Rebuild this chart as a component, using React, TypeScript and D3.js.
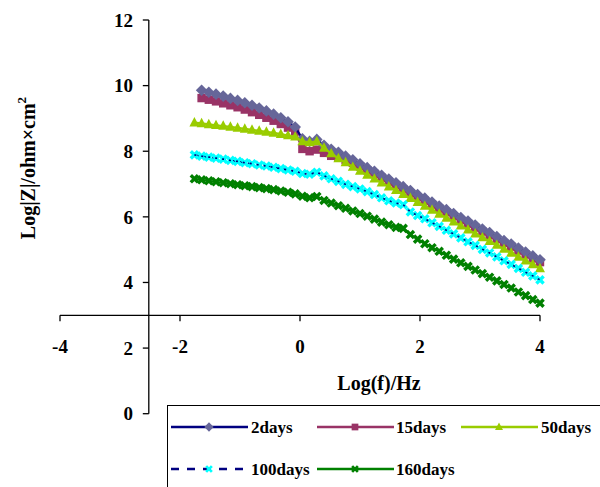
import React from "react";
import * as d3 from "d3";

const logF = [
  -1.76, -1.64, -1.52, -1.4, -1.28, -1.16, -1.04, -0.92, -0.8, -0.68, -0.56, -0.44, -0.32, -0.2, -0.08,
  0.04, 0.16, 0.28, 0.4, 0.52,
  0.64, 0.76, 0.88, 1.0, 1.12, 1.24, 1.36, 1.48, 1.6,
  1.72, 1.84, 1.96, 2.08, 2.2, 2.32, 2.44, 2.56, 2.68, 2.8,
  2.92, 3.04, 3.16, 3.28, 3.4, 3.52, 3.64, 3.76, 3.88, 4.0,
];

const days2: (number | null)[] = [
  null, 9.86, 9.8, 9.74, 9.68, 9.61, 9.55, 9.48, 9.4, 9.32, 9.23, 9.13, 9.02, 8.9, 8.74,
  8.38, 8.3, 8.36, 8.18, 8.06,
  7.97, 7.85, 7.74, 7.62, 7.5, 7.39, 7.27, 7.15, 7.04,
  6.92, 6.8, 6.68, 6.57, 6.45, 6.33, 6.22, 6.1, 5.98, 5.87,
  5.75, 5.63, 5.52, 5.4, 5.28, 5.17, 5.05, 4.93, 4.81, 4.69,
];

const days15: (number | null)[] = [
  null, 9.62, 9.57, 9.52, 9.46, 9.4, 9.34, 9.27, 9.19, 9.11, 9.02, 8.93, 8.83, 8.72, 8.6,
  8.07, 8.0, 8.05, 7.95, 7.86,
  7.8, 7.73, 7.65, 7.54, 7.42, 7.31, 7.19, 7.07, 6.96,
  6.84, 6.72, 6.6, 6.49, 6.37, 6.25, 6.14, 6.02, 5.9, 5.79,
  5.67, 5.55, 5.44, 5.32, 5.2, 5.09, 4.97, 4.85, 4.73, 4.62,
];

const days50: (number | null)[] = [
  8.87, 8.85, 8.82, 8.79, 8.77, 8.74, 8.71, 8.68, 8.65, 8.62, 8.59, 8.56, 8.52, 8.48, 8.44,
  8.3, 8.27, 8.3, 8.1, 7.93,
  7.78, 7.66, 7.52, 7.4, 7.28, 7.16, 7.04, 6.92, 6.81,
  6.69, 6.57, 6.45, 6.33, 6.21, 6.09, 5.97, 5.85, 5.73, 5.61,
  5.49, 5.37, 5.26, 5.14, 5.02, 4.9, 4.78, 4.66, 4.55, 4.43,
];

const days100: (number | null)[] = [
  7.89, 7.85, 7.82, 7.79, 7.76, 7.72, 7.69, 7.65, 7.62, 7.58, 7.55, 7.51, 7.47, 7.43, 7.39,
  7.32, 7.3, 7.36, 7.25, 7.16,
  7.08, 6.99, 6.92, 6.85, 6.77, 6.68, 6.58, 6.49, 6.42,
  6.37, 6.15, 6.04, 5.94, 5.82, 5.71, 5.59, 5.48, 5.36, 5.24,
  5.13, 5.01, 4.9, 4.78, 4.66, 4.55, 4.43, 4.31, 4.2, 4.08,
];

const days160: (number | null)[] = [
  7.16, 7.13, 7.1, 7.07, 7.04, 7.01, 6.98, 6.95, 6.92, 6.89, 6.86, 6.83, 6.79, 6.75, 6.7,
  6.63, 6.58, 6.62, 6.5, 6.42,
  6.34, 6.26, 6.18, 6.1, 6.02, 5.93, 5.84, 5.76, 5.68,
  5.65, 5.46, 5.32, 5.18, 5.06, 4.95, 4.83, 4.71, 4.6, 4.49,
  4.38, 4.27, 4.16, 4.05, 3.94, 3.83, 3.71, 3.6, 3.48, 3.37,
];

const seriesNames = ["2days", "15days", "50days", "100days", "160days"];
const xTicks = [-4, -2, 0, 2, 4];
const yTicks = [0, 2, 4, 6, 8, 10, 12];

const FONT = "'Liberation Serif', 'Times New Roman', serif";

type MarkerKind = "diamond" | "square" | "triangle" | "xcyan" | "xgreen";

function Marker({ kind, x, y, s = 1 }: { kind: MarkerKind; x: number; y: number; s?: number }) {
  if (kind === "diamond") {
    const r = 5.8 * s;
    return <path d={`M${x},${y - r}L${x + r},${y}L${x},${y + r}L${x - r},${y}Z`} fill="#666699" />;
  }
  if (kind === "square") {
    const h = 4.2 * s;
    return <rect x={x - h} y={y - h} width={2 * h} height={2 * h} fill="#993366" />;
  }
  if (kind === "triangle")
    return (
      <path
        d={`M${x},${y - 5.6 * s}L${x + 5 * s},${y + 3.8 * s}L${x - 5 * s},${y + 3.8 * s}Z`}
        fill="#99cc00"
      />
    );
  const col = kind === "xcyan" ? "#00ffff" : "#008000";
  const r = 3.6 * s;
  return (
    <path
      d={`M${x - r},${y - r}L${x + r},${y + r}M${x - r},${y + r}L${x + r},${y - r}`}
      stroke={col}
      strokeWidth={3.4 * s}
      fill="none"
    />
  );
}

export default function App() {
  const x = d3.scaleLinear().domain([-4, 4]).range([60, 540]);
  const y = d3.scaleLinear().domain([0, 12]).range([413.7, 20]);
  const axisX = x(-2.52);
  const axisY = y(3);

  const series = [
    { name: seriesNames[1], vals: days15, line: "#993366", dash: undefined as string | undefined, marker: "square" as MarkerKind },
    { name: seriesNames[0], vals: days2, line: "#000080", dash: undefined, marker: "diamond" as MarkerKind },
    { name: seriesNames[2], vals: days50, line: "#99cc00", dash: undefined, marker: "triangle" as MarkerKind },
    { name: seriesNames[3], vals: days100, line: "#000080", dash: "5 4", marker: "xcyan" as MarkerKind },
    { name: seriesNames[4], vals: days160, line: "#008000", dash: undefined, marker: "xgreen" as MarkerKind },
  ];

  const lineGen = d3
    .line<[number, number | null]>()
    .defined((d) => d[1] != null)
    .x((d) => x(d[0]))
    .y((d) => y(d[1] as number));

  const legendItems = [
    { name: seriesNames[0], line: "#000080", dash: undefined as string | undefined, marker: "diamond" as MarkerKind, lx: 171, ly: 427, tx: 251, ty: 433 },
    { name: seriesNames[1], line: "#993366", dash: undefined, marker: "square" as MarkerKind, lx: 317, ly: 427, tx: 396, ty: 433 },
    { name: seriesNames[2], line: "#99cc00", dash: undefined, marker: "triangle" as MarkerKind, lx: 461, ly: 427, tx: 541, ty: 433 },
    { name: seriesNames[3], line: "#000080", dash: "8 8", marker: "xcyan" as MarkerKind, lx: 171, ly: 469, tx: 251, ty: 475 },
    { name: seriesNames[4], line: "#008000", dash: undefined, marker: "xgreen" as MarkerKind, lx: 317, ly: 469, tx: 396, ty: 475 },
  ];

  return (
    <svg
      width={600}
      height={487}
      style={{ position: "absolute", left: 0, top: 0, background: "#fff" }}
      fontFamily={FONT}
      fontWeight="bold"
    >
      <rect x={0} y={0} width={600} height={487} fill="#fff" />

      {/* y axis */}
      <line x1={axisX} x2={axisX} y1={y(0)} y2={y(12)} stroke="#000" strokeWidth={1.3} />
      {yTicks.map((t) => (
        <g key={`yt${t}`}>
          <line x1={axisX - 6} x2={axisX} y1={y(t)} y2={y(t)} stroke="#000" strokeWidth={1.3} />
          <text x={133} y={y(t)} dy="0.35em" textAnchor="end" fontSize={19}>
            {t}
          </text>
        </g>
      ))}

      {/* x axis */}
      <line x1={x(-4)} x2={x(4)} y1={axisY} y2={axisY} stroke="#000" strokeWidth={1.3} />
      {xTicks.map((t) => (
        <g key={`xt${t}`}>
          <line x1={x(t)} x2={x(t)} y1={axisY} y2={axisY + 6} stroke="#000" strokeWidth={1.3} />
          <text x={x(t)} y={353} textAnchor="middle" fontSize={19}>
            {t}
          </text>
        </g>
      ))}

      {/* axis titles */}
      <text x={379} y={390} textAnchor="middle" fontSize={20}>
        Log(f)/Hz
      </text>
      <text transform="translate(35,168) rotate(-90)" textAnchor="middle" fontSize={20}>
        Log|Z|/ohm×cm<tspan fontSize={13} dy={-9}>2</tspan>
      </text>

      {/* series */}
      {series.map((s) => {
        const pts: [number, number | null][] = logF.map((f, i) => [f, s.vals[i]]);
        return (
          <g key={s.name}>
            <path d={lineGen(pts) || ""} fill="none" stroke={s.line} strokeWidth={2.2} strokeDasharray={s.dash} />
            {pts
              .filter((p) => p[1] != null)
              .map((p, i) => (
                <Marker key={i} kind={s.marker} x={x(p[0])} y={y(p[1] as number)} />
              ))}
            {s.marker === "xcyan" && (
              <path d={lineGen(pts) || ""} fill="none" stroke={s.line} strokeWidth={1.6} strokeDasharray="2 5" />
            )}
          </g>
        );
      })}

      {/* legend */}
      <rect x={167.5} y={405.5} width={500} height={200} fill="#fff" stroke="#000" strokeWidth={1} />
      {legendItems.map((it) => (
        <g key={`lg${it.name}`}>
          <line x1={it.lx} x2={it.lx + 77} y1={it.ly} y2={it.ly} stroke={it.line} strokeWidth={2.5} strokeDasharray={it.dash} />
          <Marker kind={it.marker} x={it.lx + 38} y={it.ly} s={0.8} />
          <text x={it.tx} y={it.ty} fontSize={17}>
            {it.name}
          </text>
        </g>
      ))}
    </svg>
  );
}
